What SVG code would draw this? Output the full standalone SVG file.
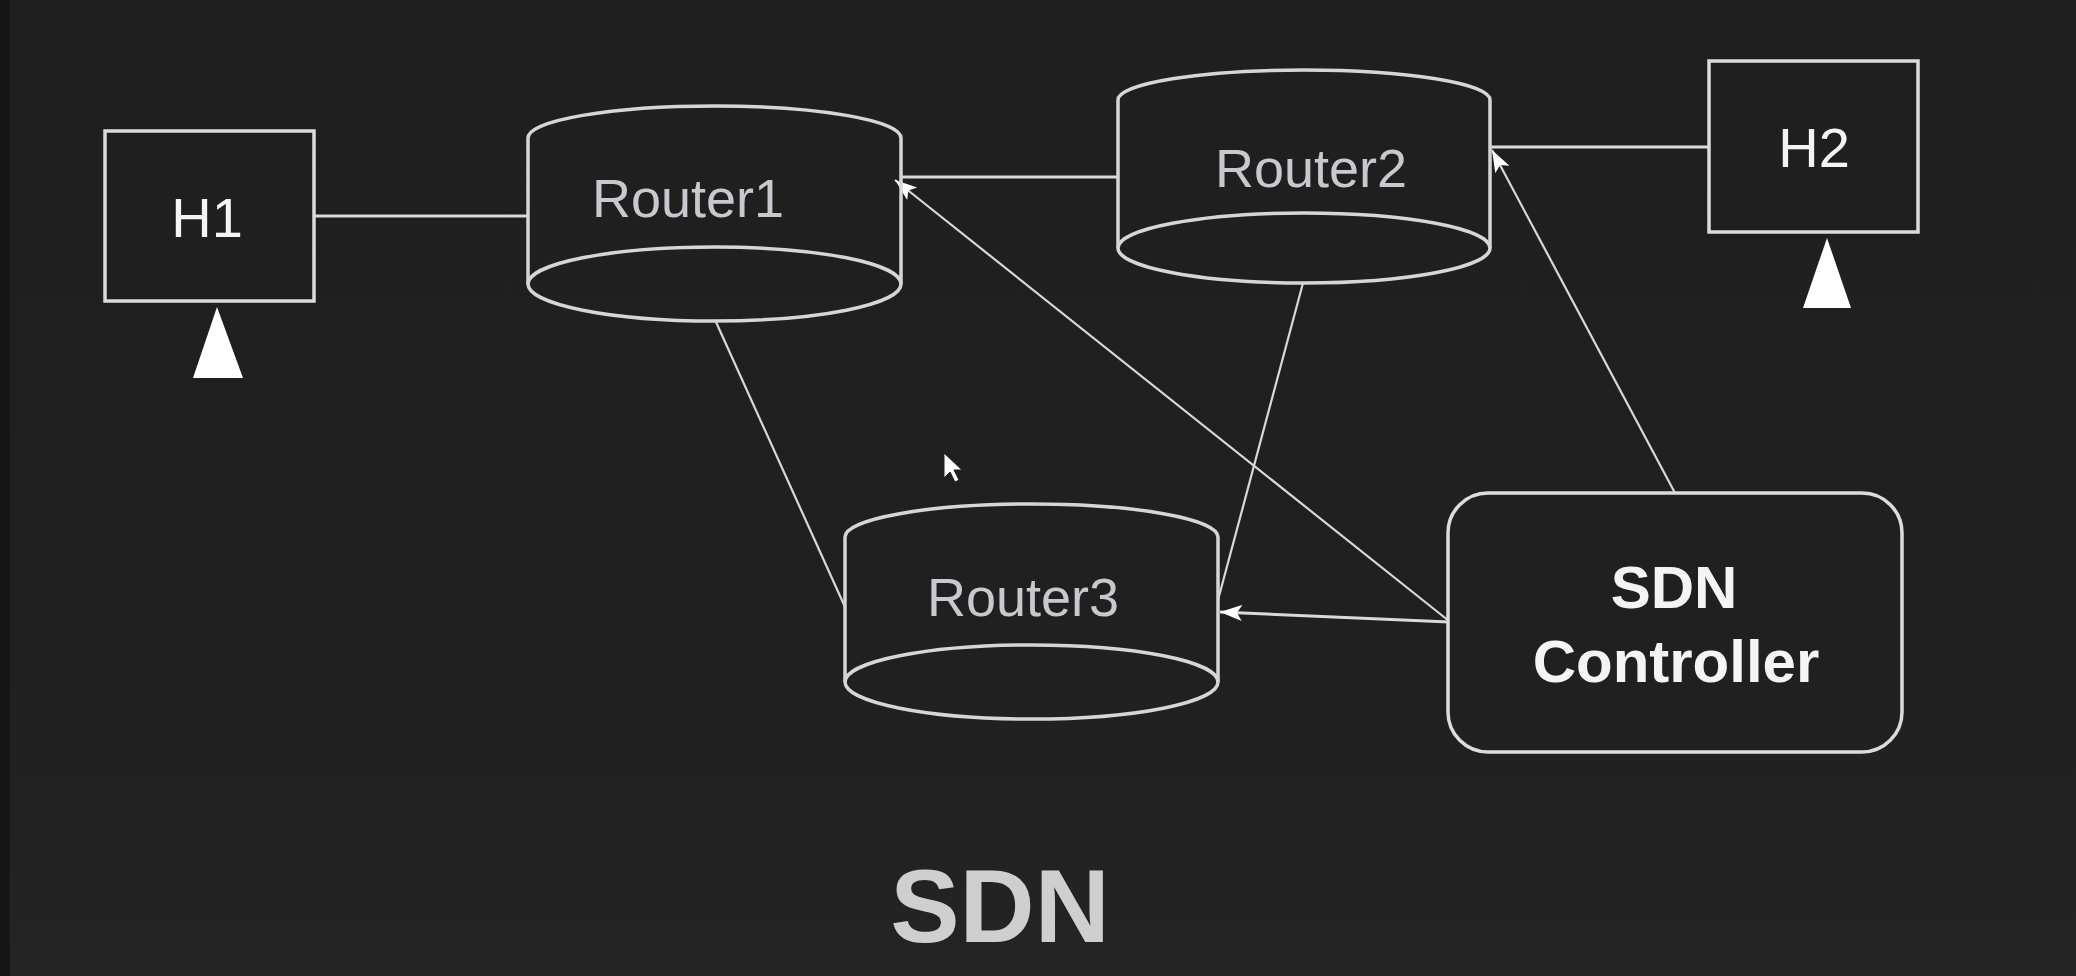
<svg xmlns="http://www.w3.org/2000/svg" width="2076" height="976" viewBox="0 0 2076 976">
<style>
.box{fill:none;stroke:#dcdcdc;stroke-width:3.5}
.cyl{fill:none;stroke:#d6d6d6;stroke-width:3.5}
.ln{fill:none;stroke:#dadada;stroke-width:3}
.thin{fill:none;stroke:#d8d8d8;stroke-width:2.2}
.tri{fill:#ffffff}
.hl{font-family:"Liberation Sans",Arial,sans-serif;font-size:56px;fill:#f2f4f6;text-anchor:middle}
.rl{font-family:"Liberation Sans",Arial,sans-serif;font-size:54px;fill:#c6cacf;text-anchor:middle}
.cl{font-family:"Liberation Sans",Arial,sans-serif;font-size:60px;font-weight:bold;fill:#f4f4f4;text-anchor:middle}
.title{font-family:"Liberation Sans",Arial,sans-serif;font-size:104px;font-weight:bold;fill:#cfcfcf;text-anchor:middle}
</style>
<defs>
<marker id="arr" markerUnits="userSpaceOnUse" markerWidth="24" markerHeight="18" refX="22" refY="8" orient="auto">
<path d="M0,0 L22,8 L0,16 L5,8 z" fill="#ffffff"/>
</marker>
<linearGradient id="bgg" x1="0" y1="0" x2="0" y2="1">
<stop offset="0" stop-color="#1f1f1f"/>
<stop offset="0.7" stop-color="#202020"/>
<stop offset="1" stop-color="#242424"/>
</linearGradient>
</defs>
<rect x="0" y="0" width="2076" height="976" fill="url(#bgg)"/>
<rect x="0" y="0" width="10" height="976" fill="#161616"/>
<g id="connectors">
<line class="ln" x1="314" y1="216" x2="528" y2="216"/>
<line class="ln" x1="901" y1="177" x2="1118" y2="177"/>
<line class="ln" x1="1490" y1="147" x2="1709" y2="147"/>
<line class="thin" x1="716" y1="322" x2="845" y2="607"/>
<line class="thin" x1="1303" y1="283" x2="1218" y2="600"/>
<line class="thin" x1="1449" y1="621" x2="895" y2="180" marker-end="url(#arr)"/>
<line class="thin" x1="1675" y1="493" x2="1492" y2="150" marker-end="url(#arr)"/>
<line class="ln" x1="1449" y1="622" x2="1220" y2="612" marker-end="url(#arr)"/>
</g>
<g id="H1">
<rect class="box" x="105" y="131" width="209" height="170"/>
<text class="hl" x="207" y="237">H1</text>
<polygon class="tri" points="217,307 193,378 243,378"/>
</g>
<g id="H2">
<rect class="box" x="1709" y="61" width="209" height="171"/>
<text class="hl" x="1814" y="167">H2</text>
<polygon class="tri" points="1827,238 1803,308 1851,308"/>
</g>
<g id="Router1">
<path class="cyl" d="M528,284 L528,138 A186.5,32 0 0 1 901,138 L901,284"/>
<ellipse class="cyl" cx="714.5" cy="284" rx="186.5" ry="37"/>
<text class="rl" x="688" y="217">Router1</text>
</g>
<g id="Router2">
<path class="cyl" d="M1118,248 L1118,100 A186,30 0 0 1 1490,100 L1490,248"/>
<ellipse class="cyl" cx="1304" cy="248" rx="186" ry="35"/>
<text class="rl" x="1311" y="187">Router2</text>
</g>
<g id="Router3">
<path class="cyl" d="M845,682 L845,537 A186.5,33 0 0 1 1218,537 L1218,682"/>
<ellipse class="cyl" cx="1031.5" cy="682" rx="186.5" ry="37"/>
<text class="rl" x="1023" y="616">Router3</text>
</g>
<g id="SDNController">
<rect class="box" x="1448" y="493" width="454" height="259" rx="40" ry="40"/>
<text class="cl" x="1674" y="608">SDN</text>
<text class="cl" x="1676" y="682">Controller</text>
</g>
<polygon id="cursor" points="944,453 944,478 950,472 955,482 959,480 954,470 962,470" fill="#ffffff" stroke="#222" stroke-width="1"/>
<text class="title" x="1000" y="942">SDN</text>
</svg>
